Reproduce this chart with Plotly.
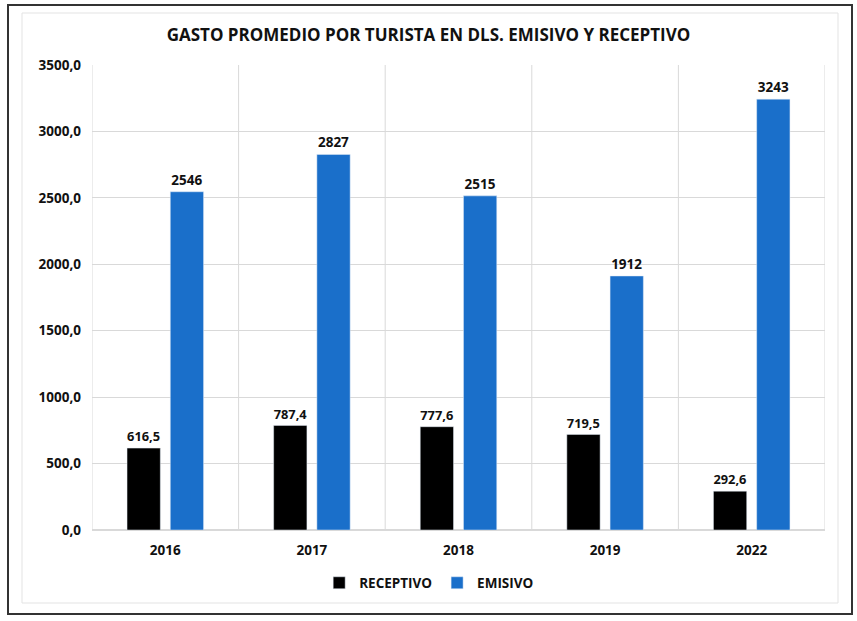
import plotly.graph_objects as go

years = ["2016", "2017", "2018", "2019", "2022"]
receptivo = [616.5, 787.4, 777.6, 719.5, 292.6]
emisivo = [2546, 2827, 2515, 1912, 3243]
y_ticks = [0, 500, 1000, 1500, 2000, 2500, 3000, 3500]

FONT = "Open Sans"
TXT = "#111111"

fig = go.Figure()
fig.add_trace(go.Bar(
    name="RECEPTIVO", x=years, y=receptivo, marker_color="#000000",
    texttemplate="%{y:.1f}", textposition="outside",
    textfont=dict(family=FONT, size=13.5, color=TXT, weight="bold"), cliponaxis=False,
))
fig.add_trace(go.Bar(
    name="EMISIVO", x=years, y=emisivo, marker_color="#1a6fca",
    texttemplate="%{y:.0f}", textposition="outside",
    textfont=dict(family=FONT, size=13.5, color=TXT, weight="bold"), cliponaxis=False,
))

PW, PH = 733, 465
shapes = []
for i in range(len(years) + 1):
    shapes.append(dict(type="line", xref="x", yref="y", x0=i - 0.5, x1=i - 0.5,
                       y0=0, y1=3500, line=dict(color="#d9d9d9", width=1), layer="below"))
# outer frame
shapes.append(dict(type="rect", xref="paper", yref="paper",
                   x0=(8 - 92) / PW, x1=1 + (852 - 825) / PW,
                   y0=-(614 - 530) / PH, y1=1 + (65 - 5) / PH,
                   line=dict(color="#333333", width=2)))
# inner frame
shapes.append(dict(type="rect", xref="paper", yref="paper",
                   x0=(22 - 92) / PW, x1=1 + (838 - 825) / PW,
                   y0=-(603 - 530) / PH, y1=1 + (65 - 13) / PH,
                   line=dict(color="#e3e3e3", width=1)))

fig.update_layout(
    width=857, height=621,
    margin=dict(l=92, r=32, t=65, b=91),
    paper_bgcolor="white", plot_bgcolor="white",
    separators=",.",
    barmode="group", bargap=0.41, bargroupgap=0.23,
    title=dict(text="GASTO PROMEDIO POR TURISTA EN DLS. EMISIVO Y RECEPTIVO",
               x=0.5, xanchor="center", y=1 - 35 / 621, yanchor="middle",
               font=dict(family=FONT, size=17, color=TXT, weight="bold")),
    font=dict(family=FONT, color=TXT),
    xaxis=dict(type="category", showgrid=False, showline=False, ticks="",
               tickfont=dict(family=FONT, size=13.5, color=TXT, weight="bold"),
               range=[-0.5, 4.5], ticklabelstandoff=10),
    yaxis=dict(range=[0, 3500], tickvals=y_ticks, tickformat=".1f",
               showgrid=True, gridcolor="#d9d9d9", gridwidth=1,
               zeroline=True, zerolinecolor="#d9d9d9", showline=False,
               tickfont=dict(family=FONT, size=13.5, color=TXT, weight="bold"),
               ticklabelstandoff=10),
    legend=dict(orientation="h", x=0.46, xanchor="center", y=-(583 - 530) / PH, yanchor="middle",
                font=dict(family=FONT, size=13.5, color=TXT, weight="bold"),
                itemwidth=30, traceorder="normal"),
    shapes=shapes,
)

fig.write_html("out.html", config={"displayModeBar": False},
               post_script="document.body.style.margin='0';")
